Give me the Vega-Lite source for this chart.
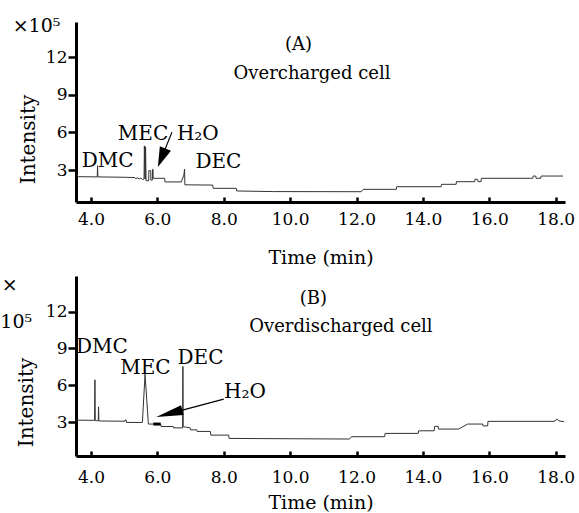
{
  "$schema": "https://vega.github.io/schema/vega-lite/v6.json",
  "background": "white",
  "padding": {"left": 0, "top": 17, "right": 4, "bottom": 0},
  "spacing": 8,
  "config": {
    "font": "DejaVu Serif",
    "view": {"stroke": null},
    "axis": {
      "grid": false,
      "domainColor": "black",
      "tickColor": "black",
      "labelColor": "black",
      "titleColor": "black",
      "domainWidth": 3,
      "tickWidth": 2.5,
      "labelFontSize": 17,
      "titleFontWeight": "normal",
      "labelFont": "DejaVu Serif",
      "titleFont": "DejaVu Serif"
    }
  },
  "datasets": {
    "traceA": [
      {"i": 1, "t": 3.56, "v": 2.66}, {"i": 2, "t": 3.63, "v": 2.47}, {"i": 3, "t": 4.19, "v": 2.45},
      {"i": 4, "t": 4.2, "v": 3.34}, {"i": 5, "t": 4.21, "v": 2.45}, {"i": 6, "t": 5.05, "v": 2.42},
      {"i": 7, "t": 5.32, "v": 2.4}, {"i": 8, "t": 5.35, "v": 2.3}, {"i": 9, "t": 5.4, "v": 2.38},
      {"i": 10, "t": 5.45, "v": 2.28}, {"i": 11, "t": 5.5, "v": 2.36}, {"i": 12, "t": 5.55, "v": 2.25},
      {"i": 13, "t": 5.6, "v": 2.28}, {"i": 14, "t": 5.61, "v": 4.93}, {"i": 15, "t": 5.625, "v": 2.3},
      {"i": 16, "t": 5.64, "v": 2.3}, {"i": 17, "t": 5.645, "v": 4.85}, {"i": 18, "t": 5.66, "v": 2.15},
      {"i": 19, "t": 5.74, "v": 2.15}, {"i": 20, "t": 5.745, "v": 2.95}, {"i": 21, "t": 5.8, "v": 2.95},
      {"i": 22, "t": 5.805, "v": 2.2}, {"i": 23, "t": 5.85, "v": 2.2}, {"i": 24, "t": 5.855, "v": 3.05},
      {"i": 25, "t": 5.87, "v": 3.05}, {"i": 26, "t": 5.875, "v": 2.34}, {"i": 27, "t": 6.22, "v": 2.34},
      {"i": 28, "t": 6.23, "v": 2.05}, {"i": 29, "t": 6.72, "v": 2.05}, {"i": 30, "t": 6.8, "v": 2.6},
      {"i": 31, "t": 6.82, "v": 3.08}, {"i": 32, "t": 6.83, "v": 1.82}, {"i": 33, "t": 7.67, "v": 1.8},
      {"i": 34, "t": 7.68, "v": 1.54}, {"i": 35, "t": 8.38, "v": 1.54}, {"i": 36, "t": 8.39, "v": 1.33},
      {"i": 37, "t": 9.5, "v": 1.28}, {"i": 38, "t": 12.14, "v": 1.27}, {"i": 39, "t": 12.2, "v": 1.46},
      {"i": 40, "t": 13.2, "v": 1.46}, {"i": 41, "t": 13.21, "v": 1.67}, {"i": 42, "t": 14.55, "v": 1.67},
      {"i": 43, "t": 14.56, "v": 1.86}, {"i": 44, "t": 15.0, "v": 1.86}, {"i": 45, "t": 15.01, "v": 2.07},
      {"i": 46, "t": 15.56, "v": 2.07}, {"i": 47, "t": 15.57, "v": 2.26}, {"i": 48, "t": 15.65, "v": 2.26},
      {"i": 49, "t": 15.66, "v": 2.07}, {"i": 50, "t": 15.75, "v": 2.07}, {"i": 51, "t": 15.76, "v": 2.34},
      {"i": 52, "t": 17.31, "v": 2.34}, {"i": 53, "t": 17.32, "v": 2.52}, {"i": 54, "t": 17.4, "v": 2.52},
      {"i": 55, "t": 17.41, "v": 2.34}, {"i": 56, "t": 17.55, "v": 2.34}, {"i": 57, "t": 17.56, "v": 2.52},
      {"i": 58, "t": 18.22, "v": 2.52}
    ],
    "traceB": [
      {"i": 1, "t": 3.54, "v": 3.17}, {"i": 2, "t": 4.11, "v": 3.15}, {"i": 3, "t": 4.12, "v": 6.45},
      {"i": 4, "t": 4.13, "v": 3.12}, {"i": 5, "t": 4.22, "v": 3.12}, {"i": 6, "t": 4.23, "v": 4.25},
      {"i": 7, "t": 4.24, "v": 3.1}, {"i": 8, "t": 5.02, "v": 3.08}, {"i": 9, "t": 5.03, "v": 3.18},
      {"i": 10, "t": 5.06, "v": 3.18}, {"i": 11, "t": 5.07, "v": 2.98}, {"i": 12, "t": 5.55, "v": 2.98},
      {"i": 13, "t": 5.63, "v": 6.91}, {"i": 14, "t": 5.73, "v": 2.85}, {"i": 15, "t": 6.1, "v": 2.85},
      {"i": 16, "t": 6.11, "v": 2.65}, {"i": 17, "t": 6.48, "v": 2.65}, {"i": 18, "t": 6.49, "v": 2.54},
      {"i": 19, "t": 6.76, "v": 2.54}, {"i": 20, "t": 6.77, "v": 7.54}, {"i": 21, "t": 6.78, "v": 2.63},
      {"i": 22, "t": 6.85, "v": 2.6}, {"i": 23, "t": 6.99, "v": 2.54}, {"i": 24, "t": 7.0, "v": 2.38},
      {"i": 25, "t": 7.19, "v": 2.38}, {"i": 26, "t": 7.2, "v": 2.25}, {"i": 27, "t": 7.6, "v": 2.25},
      {"i": 28, "t": 7.61, "v": 1.95}, {"i": 29, "t": 8.15, "v": 1.95}, {"i": 30, "t": 8.16, "v": 1.68},
      {"i": 31, "t": 11.79, "v": 1.63}, {"i": 32, "t": 11.85, "v": 1.82}, {"i": 33, "t": 12.85, "v": 1.82},
      {"i": 34, "t": 12.86, "v": 2.09}, {"i": 35, "t": 13.86, "v": 2.09}, {"i": 36, "t": 13.87, "v": 2.3},
      {"i": 37, "t": 14.34, "v": 2.3}, {"i": 38, "t": 14.35, "v": 2.66}, {"i": 39, "t": 14.46, "v": 2.66},
      {"i": 40, "t": 14.47, "v": 2.44}, {"i": 41, "t": 15.07, "v": 2.44}, {"i": 42, "t": 15.35, "v": 2.85},
      {"i": 43, "t": 15.8, "v": 2.85}, {"i": 44, "t": 15.81, "v": 2.7}, {"i": 45, "t": 15.95, "v": 2.7},
      {"i": 46, "t": 15.96, "v": 3.07}, {"i": 47, "t": 17.95, "v": 3.07}, {"i": 48, "t": 18.05, "v": 3.25},
      {"i": 49, "t": 18.1, "v": 3.1}, {"i": 50, "t": 18.25, "v": 3.05}
    ],
    "peaksA": [
      {"label": "DMC", "t": 4.5, "v": 3.24},
      {"label": "MEC", "t": 5.57, "v": 5.39},
      {"label": "H₂O", "t": 7.22, "v": 5.39},
      {"label": "DEC", "t": 7.84, "v": 3.13}
    ],
    "peaksB": [
      {"label": "DMC", "t": 4.33, "v": 8.67},
      {"label": "MEC", "t": 5.64, "v": 6.91},
      {"label": "DEC", "t": 7.3, "v": 7.72},
      {"label": "H₂O", "t": 8.64, "v": 4.93}
    ],
    "titlesA": [
      {"label": "(A)", "t": 10.25, "v": 12.54},
      {"label": "Overcharged cell", "t": 10.66, "v": 10.29}
    ],
    "titlesB": [
      {"label": "(B)", "t": 10.7, "v": 12.6},
      {"label": "Overdischarged cell", "t": 11.53, "v": 10.33}
    ],
    "unitA": [{"label": "×10⁵", "t": 2.36, "v": 14.0}],
    "unitB": [
      {"label": "×", "t": 1.55, "v": 13.7},
      {"label": "10⁵", "t": 1.75, "v": 10.7}
    ],
    "arrowA": [{"t": 6.44, "v": 6.02, "t2": 6.13, "v2": 3.98}],
    "arrowB": [{"t": 8.0, "v": 4.88, "t2": 6.36, "v2": 3.7}],
    "barB": [{"t": 5.88, "t2": 6.1, "v": 2.85}]
  },
  "vconcat": [
    {
      "width": 489,
      "height": 180,
      "layer": [
        {
          "data": {"name": "traceA"},
          "mark": {"type": "line", "color": "#333333", "strokeWidth": 1},
          "encoding": {
            "x": {"field": "t", "type": "quantitative",
              "scale": {"domain": [3.55, 18.28], "nice": false, "zero": false},
              "axis": {"title": "Time (min)", "values": [4, 6, 8, 10, 12, 14, 16, 18], "format": ".1f",
                "tickSize": -5, "labelPadding": 14, "titlePadding": 21, "titleFontSize": 19, "labelFlush": false}},
            "y": {"field": "v", "type": "quantitative",
              "scale": {"domain": [0.45, 14.8], "nice": false, "zero": false},
              "axis": {"title": "Intensity", "values": [3, 6, 9, 12], "tickSize": 8, "labelPadding": 1,
                "titlePadding": 7, "titleFontSize": 20, "titleY": 117}},
            "order": {"field": "i", "type": "quantitative"}
          }
        },
        {
          "data": {"name": "peaksA"},
          "mark": {"type": "text", "fontSize": 20, "align": "center", "baseline": "alphabetic", "color": "black"},
          "encoding": {"x": {"field": "t", "type": "quantitative"}, "y": {"field": "v", "type": "quantitative"}, "text": {"field": "label"}}
        },
        {
          "data": {"name": "titlesA"},
          "mark": {"type": "text", "fontSize": 18, "align": "center", "baseline": "alphabetic", "color": "black"},
          "encoding": {"x": {"field": "t", "type": "quantitative"}, "y": {"field": "v", "type": "quantitative"}, "text": {"field": "label"}}
        },
        {
          "data": {"name": "unitA"},
          "mark": {"type": "text", "fontSize": 19, "align": "center", "baseline": "alphabetic", "color": "black"},
          "encoding": {"x": {"field": "t", "type": "quantitative"}, "y": {"field": "v", "type": "quantitative"}, "text": {"field": "label"}}
        },
        {
          "data": {"name": "arrowA"},
          "mark": {"type": "rule", "color": "black", "strokeWidth": 1.2},
          "encoding": {"x": {"field": "t", "type": "quantitative"}, "y": {"field": "v", "type": "quantitative"},
            "x2": {"field": "t2"}, "y2": {"field": "v2"}}
        },
        {
          "data": {"name": "arrowA"},
          "mark": {"type": "point", "shape": "M0,1L-0.6,-1L0.6,-1Z", "filled": true, "color": "black", "opacity": 1, "size": 400, "angle": 22},
          "encoding": {"x": {"field": "t2", "type": "quantitative"}, "y": {"field": "v2", "type": "quantitative"}}
        }
      ]
    },
    {
      "width": 489,
      "height": 180,
      "layer": [
        {
          "data": {"name": "traceB"},
          "mark": {"type": "line", "color": "#333333", "strokeWidth": 1},
          "encoding": {
            "x": {"field": "t", "type": "quantitative",
              "scale": {"domain": [3.55, 18.28], "nice": false, "zero": false},
              "axis": {"title": "Time (min)", "values": [4, 6, 8, 10, 12, 14, 16, 18], "format": ".1f",
                "tickSize": -5, "labelPadding": 18, "titlePadding": 8, "titleFontSize": 19, "labelFlush": false}},
            "y": {"field": "v", "type": "quantitative",
              "scale": {"domain": [0.25, 14.9], "nice": false, "zero": false},
              "axis": {"title": "Intensity", "values": [3, 6, 9, 12], "tickSize": 8, "labelPadding": 1,
                "titlePadding": 9, "titleFontSize": 20, "titleY": 126}},
            "order": {"field": "i", "type": "quantitative"}
          }
        },
        {
          "data": {"name": "barB"},
          "mark": {"type": "rule", "color": "black", "strokeWidth": 3},
          "encoding": {"x": {"field": "t", "type": "quantitative"}, "x2": {"field": "t2"}, "y": {"field": "v", "type": "quantitative"}}
        },
        {
          "data": {"name": "peaksB"},
          "mark": {"type": "text", "fontSize": 20, "align": "center", "baseline": "alphabetic", "color": "black"},
          "encoding": {"x": {"field": "t", "type": "quantitative"}, "y": {"field": "v", "type": "quantitative"}, "text": {"field": "label"}}
        },
        {
          "data": {"name": "titlesB"},
          "mark": {"type": "text", "fontSize": 18, "align": "center", "baseline": "alphabetic", "color": "black"},
          "encoding": {"x": {"field": "t", "type": "quantitative"}, "y": {"field": "v", "type": "quantitative"}, "text": {"field": "label"}}
        },
        {
          "data": {"name": "unitB"},
          "mark": {"type": "text", "fontSize": 19, "align": "center", "baseline": "alphabetic", "color": "black"},
          "encoding": {"x": {"field": "t", "type": "quantitative"}, "y": {"field": "v", "type": "quantitative"}, "text": {"field": "label"}}
        },
        {
          "data": {"name": "arrowB"},
          "mark": {"type": "rule", "color": "black", "strokeWidth": 1.2},
          "encoding": {"x": {"field": "t", "type": "quantitative"}, "y": {"field": "v", "type": "quantitative"},
            "x2": {"field": "t2"}, "y2": {"field": "v2"}}
        },
        {
          "data": {"name": "arrowB"},
          "mark": {"type": "point", "shape": "M0,1L-0.37,-1L0.37,-1Z", "filled": true, "color": "black", "opacity": 1, "size": 729, "angle": 75},
          "encoding": {"x": {"field": "t2", "type": "quantitative"}, "y": {"field": "v2", "type": "quantitative"}}
        }
      ]
    }
  ]
}
